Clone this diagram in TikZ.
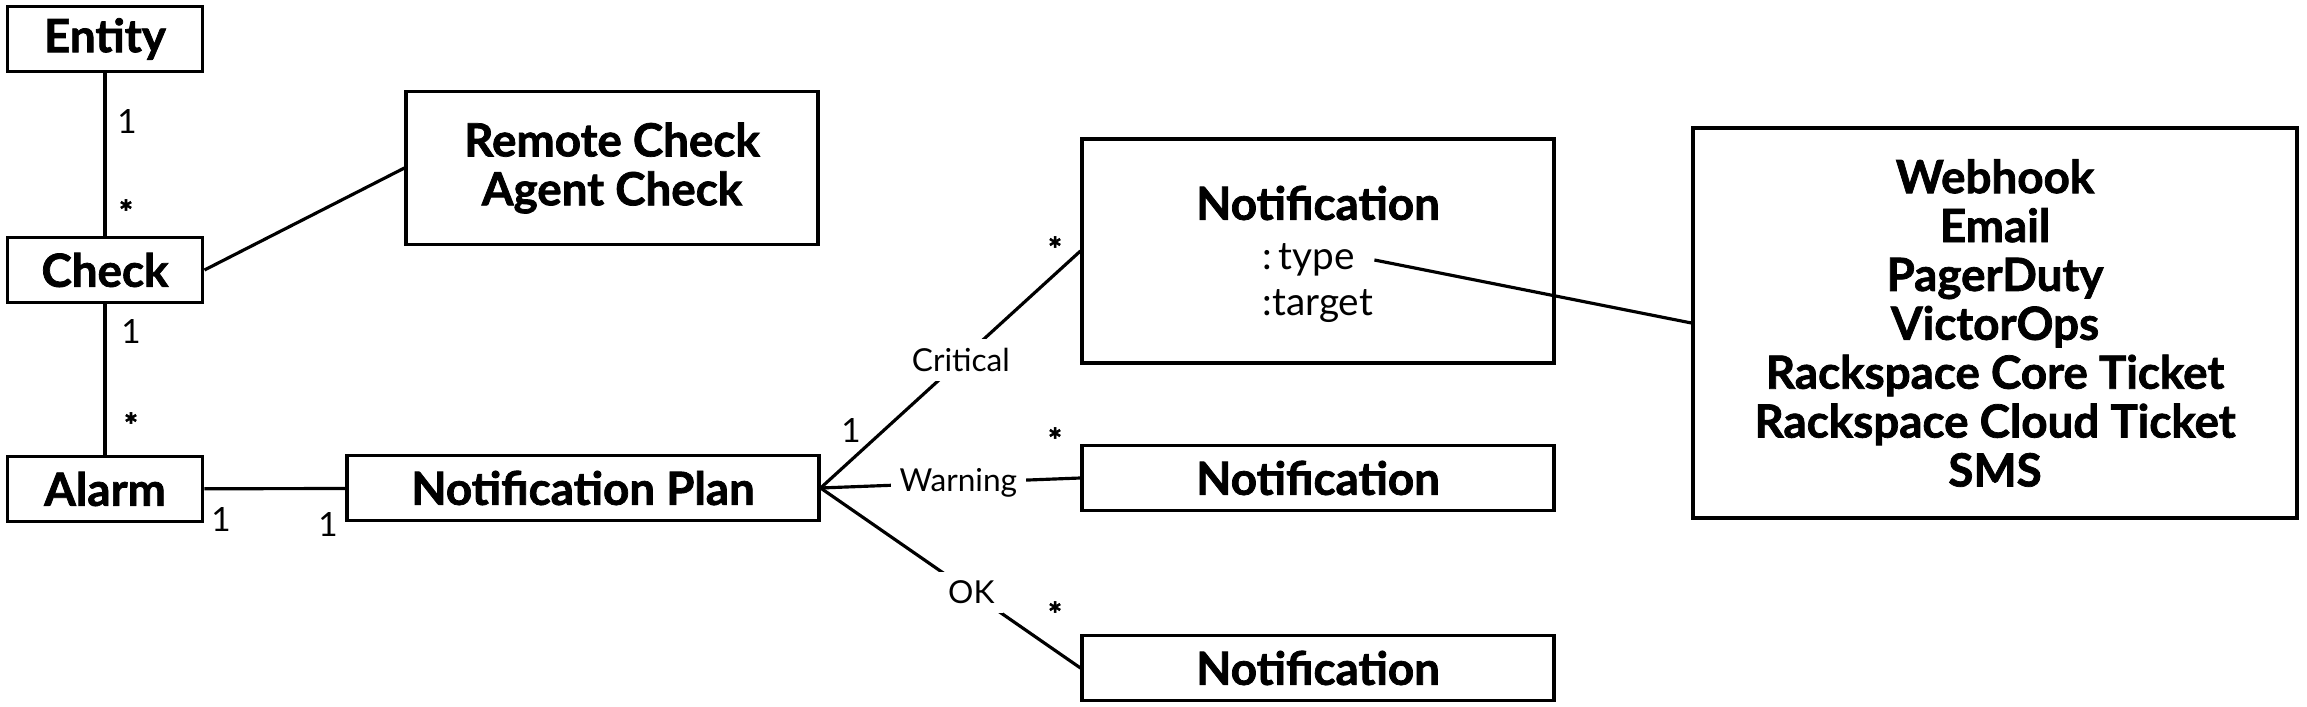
\documentclass[tikz,border=0pt]{standalone}
\usepackage{fontspec}
\setmainfont{Lato}[BoldFeatures={FakeBold=1.6}]
\usetikzlibrary{calc}

\tikzset{
  umlbox/.style={draw=black, line width=1.1pt, inner sep=0pt, align=center,
    font=\fontsize{13}{13.9}\selectfont\bfseries},
  attr/.style={anchor=west, inner ysep=0pt, inner xsep=5.4pt, font=\fontsize{11}{13}\selectfont},
  mult/.style={inner sep=1pt, font=\fontsize{9.5}{11}\selectfont},
  kind/.style={fill=white, inner sep=2.5pt, font=\fontsize{9}{11}\selectfont},
  assoc/.style={line width=0.9pt}
}

\begin{document}
\begin{tikzpicture}[x=0.01cm,y=-0.01cm]
\useasboundingbox (0,0) rectangle (2307,707);

% left column
\node [umlbox, minimum width=1.95cm, minimum height=0.65cm] (entity) at (105,39) {Entity};
\node [umlbox, minimum width=1.95cm, minimum height=0.65cm] (check) at (105,270) {Check};
\node [umlbox, minimum width=1.95cm, minimum height=0.65cm] (alarm) at (105,489) {Alarm};
\node [umlbox, minimum width=4.11cm, minimum height=1.53cm] (kinds) at (612,168) {Remote Check\\Agent Check};
\node [umlbox, minimum width=4.71cm, minimum height=0.65cm] (plan) at (583,488) {Notification Plan};

% notifications
\node [umlbox, minimum width=4.71cm, minimum height=2.24cm] (crit) at (1318,251) {};
\node [umlbox, draw=none] (crittitle) at (1318,203) {Notification};
\node [attr] (type) at (1243,260) {:\,type};
\node [attr] (target) at (1243,306) {:target};
\node [umlbox, minimum width=4.71cm, minimum height=0.65cm] (warn) at (1318,478) {Notification};
\node [umlbox, minimum width=4.71cm, minimum height=0.65cm] (ok) at (1318,668) {Notification};

\node [umlbox, minimum width=6.03cm, minimum height=3.9cm] (types) at (1995,323)
  {Webhook\\Email\\PagerDuty\\VictorOps\\Rackspace Core Ticket\\Rackspace Cloud Ticket\\SMS};

% associations
\draw [assoc] (entity) -- (check);
\draw [assoc] (check) -- (alarm);
\draw [assoc] (check.east) -- (kinds.west);
\draw [assoc] (alarm) -- (plan);
\draw [assoc] (plan.east) -- node [kind, pos=0.54] {Critical} (crit.west);
\draw [assoc] (plan.east) -- node [kind, pos=0.53] {Warning} (warn.west);
\draw [assoc] (plan.east) -- node [kind, pos=0.58] {OK} (ok.west);
\draw [assoc] (type.east) -- (types.west);

% multiplicities
\node [mult] (m1) at (127,122) {1};
\node [mult] (m2) at (126,212) {\bfseries *};
\node [mult] (m3) at (131,332) {1};
\node [mult] (m4) at (131,425) {\bfseries *};
\node [mult] (m5) at (221,520) {1};
\node [mult] (m6) at (328,525) {1};
\node [mult] (m7) at (851,431) {1};
\node [mult] (m8) at (1055,249) {\bfseries *};
\node [mult] (m9) at (1055,440) {\bfseries *};
\node [mult] (m10) at (1055,614) {\bfseries *};
\end{tikzpicture}
\end{document}
